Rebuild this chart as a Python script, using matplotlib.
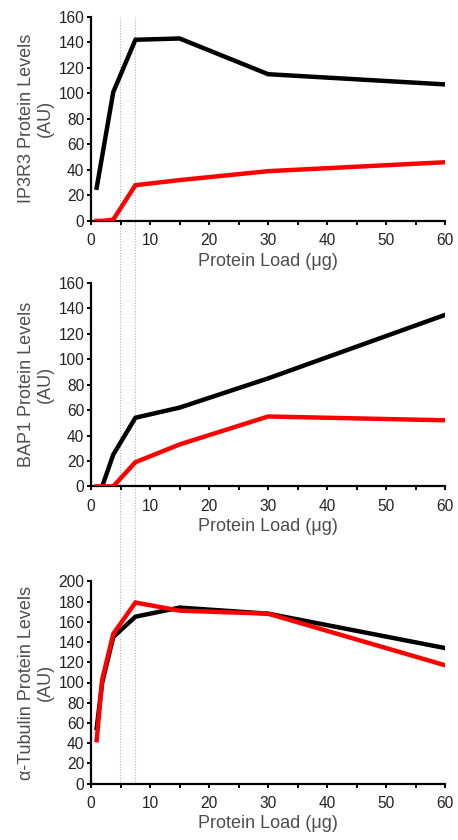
import matplotlib
matplotlib.use("Agg")
import matplotlib.pyplot as plt
from matplotlib.lines import Line2D
from matplotlib.ticker import MultipleLocator
from matplotlib.transforms import blended_transform_factory

plt.rcParams["font.family"] = ["Liberation Sans", "DejaVu Sans"]

# protein load (ug) for each lane
LOAD = [0.94, 1.875, 3.75, 7.5, 15, 30, 60]

IP3R3_BLACK = [26, None, 101, 142, 143, 115, 107]
IP3R3_RED = [0, 0, 1, 28, 32, 39, 46]

BAP1_BLACK = [None, 0, 25, 54, 62, 85, 135]
BAP1_RED = [0, 0, 0, 19, 33, 55, 52]

TUB_BLACK = [55, 100, 145, 165, 174, 168, 134]
TUB_RED = [43, 103, 148, 179, 171, 168, 117]

DOTTED_X = [4.9, 7.5]

PANELS = [
    ("IP3R3 Protein Levels\n(AU)", IP3R3_BLACK, IP3R3_RED, 160),
    ("BAP1 Protein Levels\n(AU)", BAP1_BLACK, BAP1_RED, 160),
    ("\u03b1-Tubulin Protein Levels\n(AU)", TUB_BLACK, TUB_RED, 200),
]

# axes boxes [left, bottom, width, height] in figure fractions
BOXES = [
    [0.199, 0.737, 0.773, 0.243],
    [0.199, 0.421, 0.773, 0.242],
    [0.199, 0.067, 0.773, 0.241],
]


def clean(xs, ys):
    pts = [(x, y) for x, y in zip(xs, ys) if y is not None]
    return [p[0] for p in pts], [p[1] for p in pts]


fig = plt.figure(figsize=(4.58, 8.4), dpi=100)
axes = []
for (label, black, red, ymax), box in zip(PANELS, BOXES):
    ax = fig.add_axes(box)
    axes.append(ax)
    bx, by = clean(LOAD, black)
    rx, ry = clean(LOAD, red)
    ax.plot(bx, by, color="black", lw=3.2, solid_joinstyle="miter", zorder=3)
    ax.plot(rx, ry, color="#ff0000", lw=3.2, solid_joinstyle="miter", zorder=4)

    ax.set_xlim(0, 60)
    ax.set_ylim(0, ymax)
    ax.xaxis.set_major_locator(MultipleLocator(10))
    ax.xaxis.set_minor_locator(MultipleLocator(5))
    ax.yaxis.set_major_locator(MultipleLocator(20))
    for side in ("top", "right"):
        ax.spines[side].set_visible(False)
    for side in ("left", "bottom"):
        ax.spines[side].set_linewidth(1.6)
    ax.spines["left"].set_bounds(0, ymax)
    ax.tick_params(which="both", direction="out", length=3, width=1.4,
                   labelsize=11.2, labelcolor="#222222")
    ax.tick_params(axis="x", pad=6)
    ax.tick_params(axis="y", pad=2)
    ax.set_xlabel("Protein Load (\u03bcg)", fontsize=13, color="#4d4d4d", labelpad=3)
    ax.set_ylabel(label, fontsize=13, color="#4d4d4d", labelpad=3,
                  linespacing=1.15)
    ax.patch.set_alpha(0)

top = axes[0].get_position().y1
bottom = axes[-1].get_position().y0
trans = blended_transform_factory(axes[-1].transData, fig.transFigure)
for xv in DOTTED_X:
    fig.add_artist(Line2D([xv, xv], [bottom, top], transform=trans,
                          color="#b0b0b0", lw=0.8, ls=(0, (1, 1.5)), zorder=0))

fig.savefig("out.png", dpi=100)
